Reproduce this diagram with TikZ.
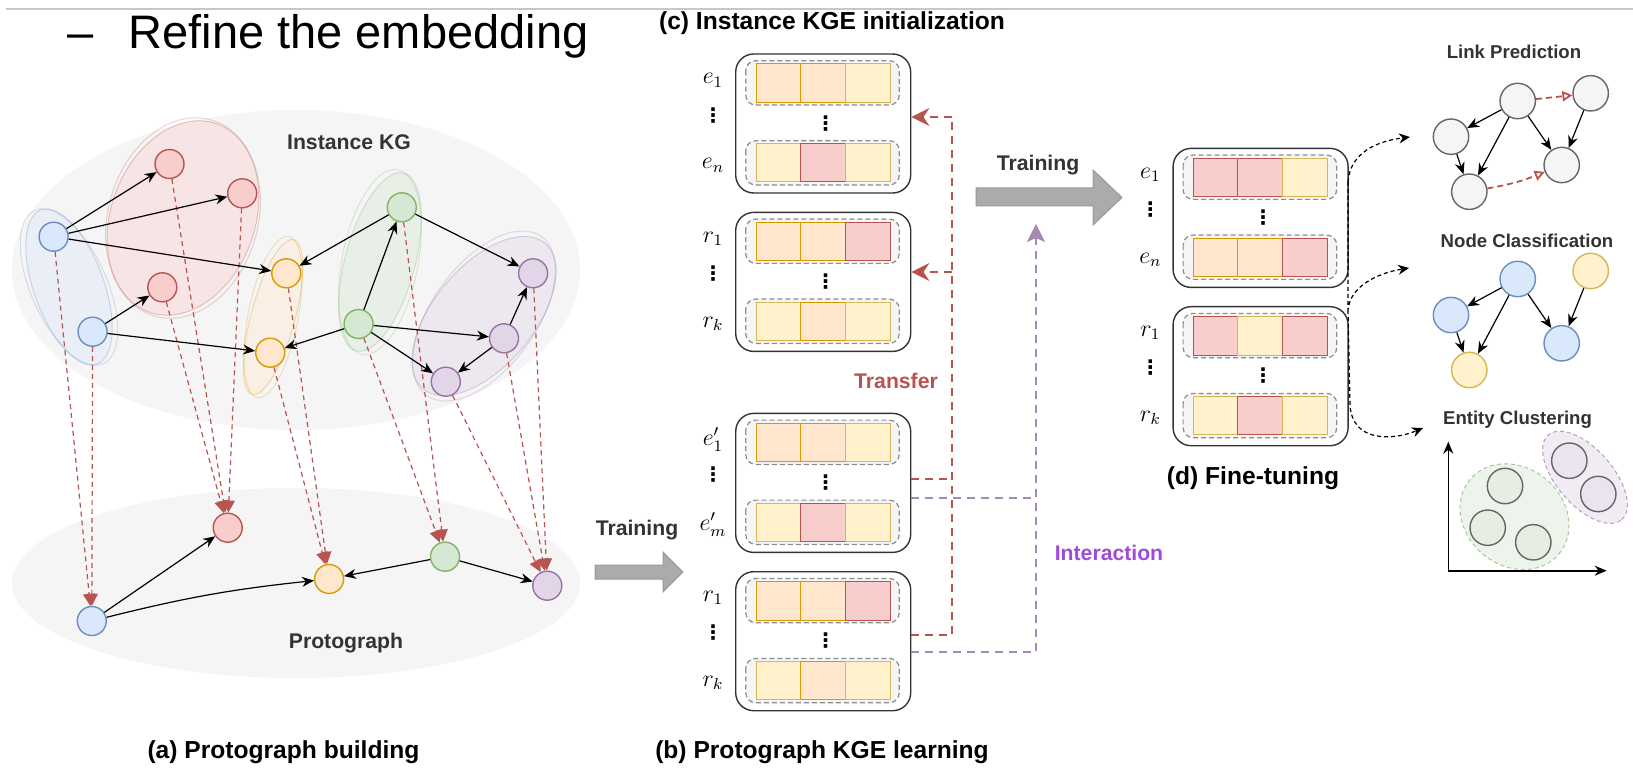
\documentclass[tikz,border=0pt]{standalone}
\usepackage{fontspec}
\setmainfont{Liberation Sans}
\newfontfamily\dotfont{DejaVu Sans}
\usetikzlibrary{arrows.meta,shapes.geometric,calc}

\definecolor{fO}{HTML}{FFE6CC}\definecolor{sO}{HTML}{D79B00}
\definecolor{fY}{HTML}{FFF2CC}\definecolor{sY}{HTML}{D6B656}
\definecolor{fR}{HTML}{F8CECC}\definecolor{sR}{HTML}{B85450}
\definecolor{fB}{HTML}{DAE8FC}\definecolor{sB}{HTML}{6C8EBF}
\definecolor{fG}{HTML}{D5E8D4}\definecolor{sG}{HTML}{82B366}
\definecolor{fP}{HTML}{E1D5E7}\definecolor{sP}{HTML}{9673A6}
\definecolor{fN}{HTML}{F5F5F5}\definecolor{sN}{HTML}{666666}
\definecolor{txt}{HTML}{333333}
\definecolor{inter}{HTML}{A04AD8}
\definecolor{clG}{HTML}{E6EEE4}\definecolor{clP}{HTML}{E9E4ED}

\tikzset{
  ent/.style={circle, minimum size=14.5pt, inner sep=0pt, line width=0.7pt},
  entB/.style={ent, fill=fB, draw=sB},
  entR/.style={ent, fill=fR, draw=sR},
  entO/.style={ent, fill=fO, draw=sO},
  entG/.style={ent, fill=fG, draw=sG},
  entP/.style={ent, fill=fP, draw=sP},
  tnode/.style={circle, minimum size=17.7pt, inner sep=0pt, line width=0.7pt},
  tnN/.style={tnode, fill=fN, draw=sN},
  tnB/.style={tnode, fill=fB, draw=sB},
  tnY/.style={tnode, fill=fY, draw=sY},
  kgedge/.style={-{Stealth[length=6pt,width=5pt]}, line width=0.6pt, black},
  proj/.style={sR, line width=0.6pt, dash pattern=on 2.5pt off 2pt, -{Triangle[length=6pt,width=6pt]}},
  predict/.style={sR, line width=0.9pt, dash pattern=on 3pt off 2pt, -{Triangle[open,length=5pt,width=5pt]}},
  lbl/.style={font=\fontsize{10.6pt}{12pt}\selectfont\bfseries, text=txt, inner sep=0pt},
  capt/.style={font=\fontsize{12.3pt}{14pt}\selectfont\bfseries, text=black, inner sep=0pt},
  tasklbl/.style={font=\fontsize{9.3pt}{11pt}\selectfont\bfseries, text=txt, inner sep=0pt},
  outerbox/.style={draw=black!80, line width=0.7pt, rounded corners=9pt, fill=white, inner sep=0pt, anchor=north west, minimum width=87.5pt, minimum height=69.5pt},
  innerbox/.style={draw=black!45, dash pattern=on 2.5pt off 1.5pt, line width=0.6pt, rounded corners=5pt, fill=fN},
  cellst/.style={line width=0.5pt},
  mlab/.style={font=\fontsize{11.5pt}{13pt}\selectfont, inner sep=0pt},
  mdots/.style={font=\dotfont\fontsize{10pt}{12pt}\selectfont\bfseries, inner sep=0pt},
  tline/.style={sR, line width=1.3pt, dash pattern=on 4pt off 3pt},
  pline/.style={sP!85, line width=1pt, dash pattern=on 4pt off 3pt},
  dconn/.style={black, line width=0.6pt, dash pattern=on 2pt off 1.5pt, -{Stealth[length=5.5pt,width=5pt]}},
  tarrow/.style={fill=black!33, draw=black!40, line width=0.5pt},
  axisst/.style={black, line width=0.8pt, -{Stealth[length=6pt,width=5pt]}},
}

\newcommand{\embbox}[5]{%
  \node[outerbox] (#1) at (#2,#3) {};
  \draw[innerbox] ({#2+10.7},{#3+7.4}) rectangle ({#2+164.3},{#3+51.7});
  \draw[innerbox] ({#2+10.7},{#3+87.4}) rectangle ({#2+164.3},{#3+131.7});
  \node[mdots] (#1-mid) at ({#2+90.7},{#3+70}) {⋮};
  \node[mlab] (#1-la) at ({#2-22},{#3+27}) {$#4$};
  \node[mdots] (#1-ld) at ({#2-22},{#3+62}) {⋮};
  \node[mlab] (#1-lb) at ({#2-22},{#3+112}) {$#5$};
}
\newcommand{\embrows}[8]{%
  \draw[cellst, fill=f#3, draw=s#3] ({#1+21},{#2+10.7}) rectangle ({#1+65},{#2+49});
  \draw[cellst, fill=f#4, draw=s#4] ({#1+65},{#2+10.7}) rectangle ({#1+110.5},{#2+49});
  \draw[cellst, fill=f#5, draw=s#5] ({#1+110.5},{#2+10.7}) rectangle ({#1+155.5},{#2+49});
  \draw[cellst, fill=f#6, draw=s#6] ({#1+21},{#2+90.7}) rectangle ({#1+65},{#2+128.4});
  \draw[cellst, fill=f#7, draw=s#7] ({#1+65},{#2+90.7}) rectangle ({#1+110.5},{#2+128.4});
  \draw[cellst, fill=f#8, draw=s#8] ({#1+110.5},{#2+90.7}) rectangle ({#1+155.5},{#2+128.4});
}

\begin{document}
\begin{tikzpicture}[x=0.5pt,y=-0.5pt]
\fill[white] (0,0) rectangle (1633,775);
\useasboundingbox (0,0) rectangle (1633,775);

% top rule and heading
\draw[black!22, line width=0.7pt] (6,9) -- (1633,9);
\node[anchor=base west, inner sep=0pt, font=\fontsize{23.5pt}{28pt}\selectfont] (head) at (67,49) {–\hspace{17.5pt}Refine the embedding};

% ===== (a) =====
\fill[fN] (296,270) ellipse [x radius=142pt, y radius=80pt];
\fill[fN] (296,583) ellipse [x radius=142pt, y radius=47.5pt];

% blobs
\foreach \c/\cx/\cy/\rx/\ry/\ang in {B/69/287/17.5/41/20, R/183/218/36/50/-20, O/273/317/11/40/-15, G/380/262/17.5/46/-15, P/484/316/47.5/25/50}{
  \fill[f\c, fill opacity=0.4] [rotate around={\ang:(\cx,\cy)}] (\cx,\cy) ellipse [x radius=\rx pt, y radius=\ry pt];
  \draw[s\c, draw opacity=0.3, line width=0.5pt] [rotate around={\ang:(\cx,\cy)}] (\cx,\cy) ellipse [x radius=\rx pt, y radius=\ry pt];
  \draw[s\c, draw opacity=0.25, line width=0.5pt] [rotate around={\ang+4:(\cx,\cy)}] (\cx,\cy) ellipse [x radius=\rx pt+1.5pt, y radius=\ry pt+1pt];
}

\node[lbl] (ikg) at (349,142) {Instance KG};
\node[lbl] (pgl) at (346,643) {Protograph};

\node[entB] (B1) at (53.6,236.7) {};
\node[entB] (B2) at (92.6,331.7) {};
\node[entR] (R1) at (169.5,164) {};
\node[entR] (R2) at (242.2,193.3) {};
\node[entR] (R3) at (162.3,287.3) {};
\node[entO] (O1) at (286.3,273.3) {};
\node[entO] (O2) at (270.2,352.7) {};
\node[entG] (G1) at (401.8,207.3) {};
\node[entG] (G2) at (358.6,324) {};
\node[entP] (P1) at (533.1,273.3) {};
\node[entP] (P2) at (504,338.3) {};
\node[entP] (P3) at (445.8,381.7) {};

\node[entB] (PB) at (91.8,621) {};
\node[entR] (PR) at (227.7,527.7) {};
\node[entO] (PO) at (329.1,579) {};
\node[entG] (PG) at (445,556.7) {};
\node[entP] (PP) at (547.3,585.7) {};

\foreach \a/\b in {B1/PB,B2/PB,R1/PR,R2/PR,R3/PR,O1/PO,O2/PO,G1/PG,G2/PG,P1/PP,P2/PP,P3/PP}
  \draw[proj] (\a) -- (\b);

\foreach \a/\b in {B1/R1,B1/R2,B1/O1,B2/R3,B2/O2,G1/O1,G2/O2,G2/G1,G1/P1,G2/P2,G2/P3,P2/P1,P2/P3,PB/PR,PG/PO,PG/PP}
  \draw[kgedge] (\a) -- (\b);
\draw[kgedge] (PB) to[bend left=4] (PO);

\node[capt] (capa) at (283.5,752) {(a) Protograph building};

% training arrow (bottom)
\node[lbl] (tr1) at (637,530) {Training};
\draw[tarrow] (595,565) -- (663,565) -- (663,552) -- (683,572) -- (663,592) -- (663,579) -- (595,579) -- cycle;

% ===== (b) and (c) =====
\node[capt] (capc) at (832,23.3) {(c) Instance KGE initialization};
\embbox{c1}{735}{53.3}{e_1}{e_n}
\embrows{735}{53.3}{O}{O}{Y}{Y}{R}{Y}
\embbox{c2}{735}{211.7}{r_1}{r_k}
\embrows{735}{211.7}{O}{O}{R}{Y}{O}{Y}
\embbox{b1}{735}{412.7}{e'_1}{e'_m}
\embrows{735}{412.7}{O}{O}{Y}{Y}{R}{Y}
\embbox{b2}{735}{571}{r_1}{r_k}
\embrows{735}{571}{O}{O}{R}{Y}{O}{Y}
\node[capt] (capb) at (822,752) {(b) Protograph KGE learning};

% transfer connectors
\coordinate (trTop) at (952,117);
\coordinate (trMid) at (952,272);
\coordinate (yb1t) at (0,479);
\coordinate (yb2t) at (0,635);
\coordinate (yb1i) at (0,498);
\coordinate (yb2i) at (0,652);
\draw[tline] (b2.east |- yb2t) -| (trTop);
\draw[tline, -{Stealth[length=9pt,width=9pt,inset=3pt]}] (trTop) -- (c1.east |- trTop);
\draw[tline, -{Stealth[length=9pt,width=9pt,inset=3pt]}] (trMid) -- (c2.east |- trMid);
\draw[tline] (b1.east |- yb1t) -- (trTop |- yb1t);
\node[lbl, text=sR] (transfer) at (896,381) {Transfer};

% interaction connectors
\coordinate (inTop) at (1036,224);
\draw[pline] (b1.east |- yb1i) -- (inTop |- yb1i);
\draw[pline, -{Stealth[length=9pt,width=9pt,inset=2pt]}] (b2.east |- yb2i) -| (inTop);
\node[lbl, text=inter] (interaction) at (1109,553) {Interaction};

% training arrow (top)
\node[lbl] (tr2) at (1038,165) {Training};
\draw[tarrow] (976,188) -- (1093,188) -- (1093,170) -- (1122,197.5) -- (1093,225) -- (1093,206) -- (976,206) -- cycle;

% ===== (d) =====
\embbox{d1}{1172.4}{147.7}{e_1}{e_n}
\embrows{1172.4}{147.7}{R}{R}{Y}{O}{O}{R}
\embbox{d2}{1172.4}{306}{r_1}{r_k}
\embrows{1172.4}{306}{R}{Y}{R}{Y}{R}{Y}
\node[capt] (capd) at (1253,478) {(d) Fine-tuning};

\coordinate (dA) at (1348,182);
\coordinate (dB) at (1348,310);
\coordinate (dC) at (1350,405);
\coordinate (tLP) at (1410,137);
\coordinate (tNC) at (1409,268);
\coordinate (tEC) at (1423,428);
\draw[dconn] (dA) .. controls (1350,152) and (1378,141) .. (tLP);
\draw[dconn] (dA) -- (dB) .. controls (1350,286) and (1378,273) .. (tNC);
\draw[dconn] (dB) -- (dC) .. controls (1352,442) and (1392,441) .. (tEC);

% Link prediction
\node[tasklbl] (tlp) at (1514,52) {Link Prediction};
\node[tnN] (L1) at (1517.7,101) {};
\node[tnN] (L2) at (1590.7,93.3) {};
\node[tnN] (L3) at (1451,136.7) {};
\node[tnN] (L4) at (1561.7,165) {};
\node[tnN] (L5) at (1469.3,191.7) {};
\foreach \a/\b in {L1/L3,L1/L5,L1/L4,L3/L5,L2/L4}
  \draw[kgedge] (\a) -- (\b);
\draw[predict] (L1) -- (L2);
\draw[predict] (L5) to[bend right=6] (L4);

% Node classification
\node[tasklbl] (tnc) at (1527,241) {Node Classification};
\node[tnB] (N1) at (1517.7,279) {};
\node[tnY] (N2) at (1590.7,271) {};
\node[tnB] (N3) at (1451,315) {};
\node[tnB] (N4) at (1561.7,343.3) {};
\node[tnY] (N5) at (1469.3,370) {};
\foreach \a/\b in {N1/N3,N1/N5,N1/N4,N3/N5,N2/N4}
  \draw[kgedge] (\a) -- (\b);

% Entity clustering
\node[tasklbl] (tec) at (1517.5,420) {Entity Clustering};
\coordinate (origin) at (1448.3,570.7);
\coordinate (yend) at (1448.3,441.7);
\coordinate (xend) at (1606.7,570.7);
\fill[fG, fill opacity=0.45] [rotate around={-40:(1514.5,516.7)}] (1514.5,516.7) ellipse [x radius=29pt, y radius=24.5pt];
\draw[sG!70, dash pattern=on 2pt off 1.5pt, line width=0.5pt] [rotate around={-40:(1514.5,516.7)}] (1514.5,516.7) ellipse [x radius=29pt, y radius=24.5pt];
\fill[fP, fill opacity=0.45] [rotate around={-49:(1585,477.3)}] (1585,477.3) ellipse [x radius=28pt, y radius=14pt];
\draw[sP!70, dash pattern=on 2pt off 1.5pt, line width=0.5pt] [rotate around={-49:(1585,477.3)}] (1585,477.3) ellipse [x radius=28pt, y radius=14pt];
\node[tnode, fill=clG, draw=sN] (C1) at (1505,486) {};
\node[tnode, fill=clG, draw=sN] (C2) at (1487.7,527.7) {};
\node[tnode, fill=clG, draw=sN] (C3) at (1533.3,542.3) {};
\node[tnode, fill=clP, draw=sN] (C4) at (1569.3,460.7) {};
\node[tnode, fill=clP, draw=sN] (C5) at (1598.3,494) {};
\draw[axisst] (origin) -- (yend);
\draw[axisst] (origin) -- (xend);
\end{tikzpicture}
\end{document}
